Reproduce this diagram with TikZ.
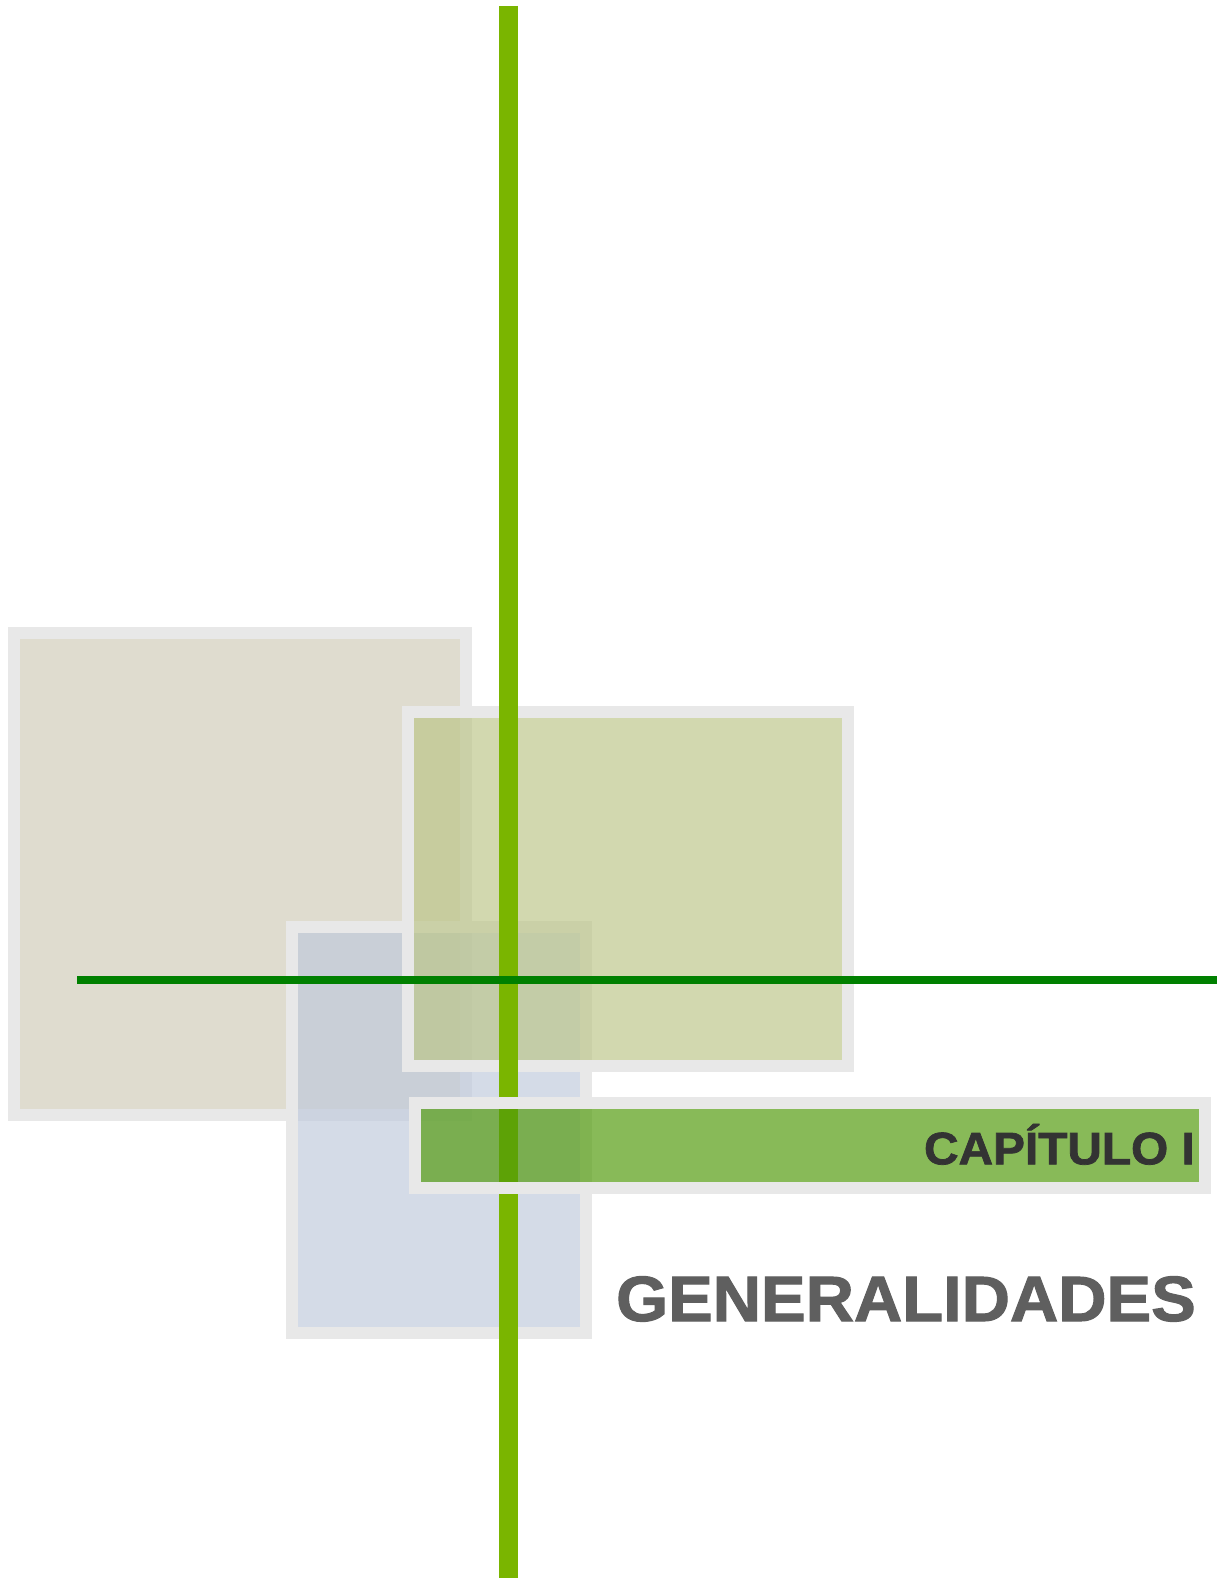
\documentclass[tikz,border=0pt]{standalone}
\usepackage{fontspec}
\setmainfont{Liberation Sans}
\newfontfamily\heavyfont[FakeBold=1.6]{Liberation Sans Bold}
\definecolor{bordergray}{HTML}{E8E8E8}
\definecolor{beige}{HTML}{DFDCCF}
\definecolor{bluefill}{RGB}{190,201,220}
\definecolor{olivefill}{RGB}{187,197,134}
\definecolor{barfill}{RGB}{80,154,9}
\definecolor{vgreen}{HTML}{7AB500}
\definecolor{hgreen}{HTML}{008000}
\definecolor{darktext}{HTML}{333333}
\definecolor{graytext}{HTML}{5F5F5F}
\tikzset{
  frame/.style={draw=bordergray, line width=12pt},
  panelfill/.style={fill opacity=0.66},
}
\begin{document}
\begin{tikzpicture}[x=1pt,y=-1pt]
\useasboundingbox (0,0) rectangle (1223,1578);
\fill[white] (0,0) rectangle (1223,1578);
% beige panel
\fill[beige] (20,639) rectangle (460,1109);
\draw[frame] (14,633) rectangle (466,1115);
% blue panel
\fill[bluefill, panelfill] (298,933) rectangle (580,1327);
\draw[frame] (292,927) rectangle (586,1333);
% olive panel
\fill[olivefill, panelfill] (414,718) rectangle (842,1060);
\draw[frame] (408,712) rectangle (848,1066);
% vertical line
\coordinate (vtop) at (508.8,6);
\coordinate (vbot) at (508.8,1578);
\draw[vgreen, line width=19pt] (vtop) -- (vbot);
% horizontal line
\coordinate (hl) at (77.3,979.5);
\coordinate (hr) at (1216.7,979.5);
\draw[hgreen, line width=8pt] (hl) -- (hr);
% chapter bar
\fill[barfill, fill opacity=0.68] (421,1109) rectangle (1199,1182);
\draw[frame] (415,1103) rectangle (1205,1188);
% texts
\node[anchor=base east, inner sep=0pt, text=darktext, font=\heavyfont\fontsize{45.5}{50}\selectfont, xscale=1.05] (cap) at (1195,1164.3) {CAPÍTULO I};
\node[anchor=base east, inner sep=0pt, text=graytext, font=\heavyfont\fontsize{64}{70}\selectfont, xscale=1.045] (gen) at (1196,1321) {GENERALIDADES};
\end{tikzpicture}
\end{document}
